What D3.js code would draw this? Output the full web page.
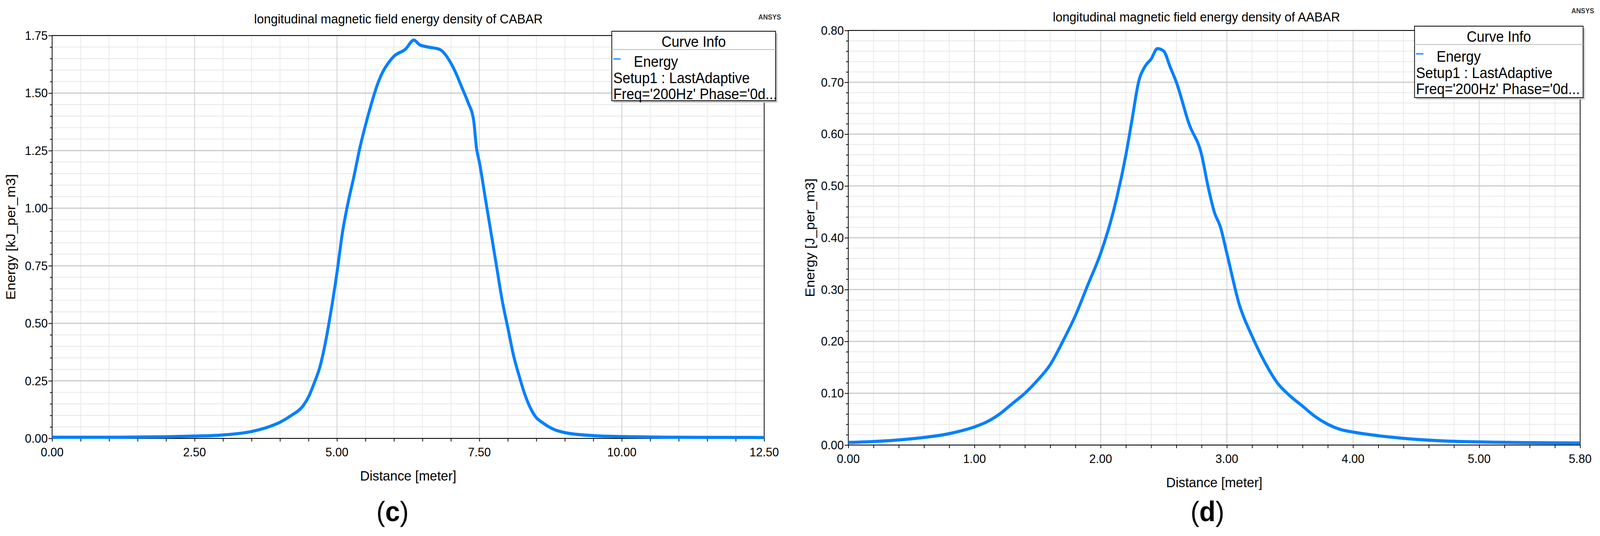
<!DOCTYPE html>
<html><head><meta charset="utf-8">
<script src="https://cdn.jsdelivr.net/npm/d3@7/dist/d3.min.js"></script>
<style>html,body{margin:0;padding:0;background:#fff;overflow:hidden}svg{display:block;width:100vw;height:100vh}text{font-family:"Liberation Sans Narrow","Liberation Sans",Arial,sans-serif}</style>
</head><body><svg id="c" viewBox="0 0 4357 1373" preserveAspectRatio="none"></svg>
<script>
const cabarX=[0,1,2,2.5,3,3.5,3.8,4.0,4.2,4.4,4.5,4.6,4.7,4.8,4.9,5.0,5.1,5.2,5.3,5.4,5.5,5.6,5.7,5.8,5.9,6.0,6.2,6.35,6.45,6.6,6.8,7.0,7.1,7.2,7.3,7.4,7.45,7.5,7.6,7.7,7.8,7.9,8.0,8.1,8.2,8.3,8.4,8.5,8.6,8.8,9.0,9.5,10,11,12.5];
const cabarY=[0.005,0.005,0.007,0.01,0.015,0.03,0.05,0.07,0.1,0.14,0.18,0.24,0.31,0.42,0.56,0.72,0.9,1.03,1.14,1.26,1.36,1.45,1.53,1.59,1.63,1.66,1.69,1.73,1.71,1.70,1.69,1.63,1.58,1.52,1.46,1.38,1.26,1.2,1.05,0.9,0.75,0.6,0.48,0.36,0.27,0.19,0.13,0.09,0.07,0.04,0.025,0.012,0.008,0.005,0.004];
const aabarX=[0,0.5,0.8,1.0,1.1,1.2,1.3,1.4,1.5,1.6,1.7,1.8,1.9,2.0,2.1,2.2,2.25,2.3,2.35,2.4,2.45,2.5,2.55,2.6,2.7,2.8,2.85,2.9,2.95,3.0,3.1,3.2,3.3,3.4,3.5,3.6,3.7,3.8,3.9,4.0,4.2,4.5,5.0,5.8];
const aabarY=[0.005,0.012,0.022,0.035,0.045,0.06,0.08,0.1,0.125,0.155,0.2,0.25,0.31,0.37,0.45,0.56,0.63,0.7,0.73,0.745,0.765,0.76,0.73,0.7,0.62,0.56,0.5,0.45,0.42,0.37,0.27,0.21,0.16,0.12,0.095,0.075,0.055,0.04,0.03,0.025,0.018,0.011,0.006,0.004];
const cabarXTicks=["0.00","2.50","5.00","7.50","10.00","12.50"];
const cabarYTicks=["0.00","0.25","0.50","0.75","1.00","1.25","1.50","1.75"];
const aabarXTicks=["0.00","1.00","2.00","3.00","4.00","5.00","5.80"];
const aabarYTicks=["0.00","0.10","0.20","0.30","0.40","0.50","0.60","0.70","0.80"];
const legendLines=["Energy","Setup1 : LastAdaptive","Freq='200Hz' Phase='0d..."];

const svg=d3.select("#c");
function panel(o){
  const g=svg.append("g");
  const x=d3.scaleLinear().domain([0,o.xmax]).range([o.l,o.r]);
  const y=d3.scaleLinear().domain([0,o.ymax]).range([o.b,o.t]);
  g.selectAll(".mx").data(d3.range(0,o.xmax+1e-9,o.xminor)).enter().append("line")
   .attr("x1",d=>x(d)).attr("x2",d=>x(d)).attr("y1",o.t).attr("y2",o.b).attr("stroke","#e8e8e8").attr("stroke-width",2);
  g.selectAll(".my").data(d3.range(0,o.ymax+1e-9,o.yminor)).enter().append("line")
   .attr("y1",d=>y(d)).attr("y2",d=>y(d)).attr("x1",o.l).attr("x2",o.r).attr("stroke","#e8e8e8").attr("stroke-width",2);
  const xt=o.xticks.map(Number), yt=o.yticks.map(Number);
  g.selectAll(".Mx").data(xt).enter().append("line")
   .attr("x1",d=>x(d)).attr("x2",d=>x(d)).attr("y1",o.t).attr("y2",o.b).attr("stroke","#d0d0d0").attr("stroke-width",2);
  g.selectAll(".My").data(yt).enter().append("line")
   .attr("y1",d=>y(d)).attr("y2",d=>y(d)).attr("x1",o.l).attr("x2",o.r).attr("stroke","#cccccc").attr("stroke-width",3);
  g.append("rect").attr("x",o.l).attr("y",o.t).attr("width",o.r-o.l).attr("height",o.b-o.t).attr("fill","none").attr("stroke","#000").attr("stroke-width",2);
  const xa=g.append("g").attr("transform",`translate(0,${o.b})`)
    .call(d3.axisBottom(x).tickValues(d3.range(0,o.xmax+1e-9,o.xminor)).tickSize(8).tickFormat(""));
  xa.select(".domain").remove(); xa.selectAll("line").attr("stroke-width",2);
  const ya=g.append("g").attr("transform",`translate(${o.l},0)`)
    .call(d3.axisLeft(y).tickValues(d3.range(0,o.ymax+1e-9,o.yminor)).tickSize(6).tickFormat(""));
  ya.select(".domain").remove(); ya.selectAll("line").attr("stroke-width",2);
  ya.selectAll(".tick").filter(d=>yt.some(v=>Math.abs(v-d)<1e-6)).select("line").attr("x2",-10);
  g.selectAll(".xl").data(o.xticks).enter().append("text").attr("x",d=>x(+d)).attr("y",o.b+46)
   .attr("text-anchor","middle").attr("font-size",32).text(d=>d);
  g.selectAll(".yl").data(o.yticks).enter().append("text").attr("x",o.l-12).attr("y",d=>y(+d)+11)
   .attr("text-anchor","end").attr("font-size",32).text(d=>d);
  g.append("path").datum(o.xs.map((v,i)=>[v,o.ys[i]]))
   .attr("d",d3.line().x(d=>x(d[0])).y(d=>y(d[1])).curve(d3.curveMonotoneX))
   .attr("fill","none").attr("stroke","#0080ff").attr("stroke-width",8);
  g.append("text").attr("x",o.tx).attr("y",o.ty).attr("text-anchor","middle").attr("font-size",34).text(o.title);
  g.append("text").attr("x",(o.l+o.r)/2).attr("y",o.b+108).attr("text-anchor","middle").attr("font-size",36).text("Distance [meter]");
  g.append("text").attr("transform",`translate(${o.yl},${(o.t+o.b)/2}) rotate(-90)`).attr("text-anchor","middle").attr("font-size",36).text(o.ylabel);
  g.append("text").attr("x",o.ansx).attr("y",o.ansy).attr("text-anchor","end").attr("font-size",18).attr("font-weight","bold").attr("fill","#333").attr("font-family","Liberation Sans").text("ANSYS");
  const L=o.leg;
  g.append("rect").attr("x",L.x+5).attr("y",L.y+5).attr("width",L.w).attr("height",L.h).attr("fill","#c8c8c8");
  g.append("rect").attr("x",L.x).attr("y",L.y).attr("width",L.w).attr("height",L.h).attr("fill","#fff").attr("stroke","#000").attr("stroke-width",2);
  g.append("line").attr("x1",L.x).attr("x2",L.x+L.w).attr("y1",L.y+47).attr("y2",L.y+47).attr("stroke","#bbb").attr("stroke-width",2);
  g.append("text").attr("x",L.x+L.w/2).attr("y",L.y+40).attr("text-anchor","middle").attr("font-size",38).text("Curve Info");
  g.append("line").attr("x1",L.x+4).attr("x2",L.x+24).attr("y1",L.y+71).attr("y2",L.y+71).attr("stroke","#0080ff").attr("stroke-width",3);
  g.append("text").attr("x",L.x+60).attr("y",L.y+91).attr("font-size",38).text(legendLines[0]);
  g.append("text").attr("x",L.x+4).attr("y",L.y+133).attr("font-size",38).text(legendLines[1]);
  g.append("text").attr("x",L.x+4).attr("y",L.y+174).attr("font-size",38).text(legendLines[2]);
  const t=svg.append("text").attr("x",o.lab).attr("y",1335).attr("text-anchor","middle").attr("font-size",72).attr("font-family","Liberation Serif");
  t.append("tspan").text("(");
  t.append("tspan").attr("font-weight","bold").text(o.labText);
  t.append("tspan").text(")");
}
panel({l:142,r:2081,t:91,b:1123,xmax:12.5,ymax:1.75,xminor:0.5,yminor:0.05,xticks:cabarXTicks,yticks:cabarYTicks,
  xs:cabarX,ys:cabarY,title:"longitudinal magnetic field energy density of CABAR",tx:1085,ty:60,ylabel:"Energy [kJ_per_m3]",yl:42,
  ansx:2127,ansy:50,leg:{x:1666,y:80,w:446,h:178},lab:1069,labText:"c"});
panel({l:2310,r:4303,t:78,b:1140,xmax:5.8,ymax:0.8,xminor:0.2,yminor:0.02,xticks:aabarXTicks,yticks:aabarYTicks,
  xs:aabarX,ys:aabarY,title:"longitudinal magnetic field energy density of AABAR",tx:3258,ty:55,ylabel:"Energy [J_per_m3]",yl:2218,
  ansx:4341,ansy:34,leg:{x:3852,y:67,w:459,h:183},lab:3288,labText:"d"});
</script></body></html>
